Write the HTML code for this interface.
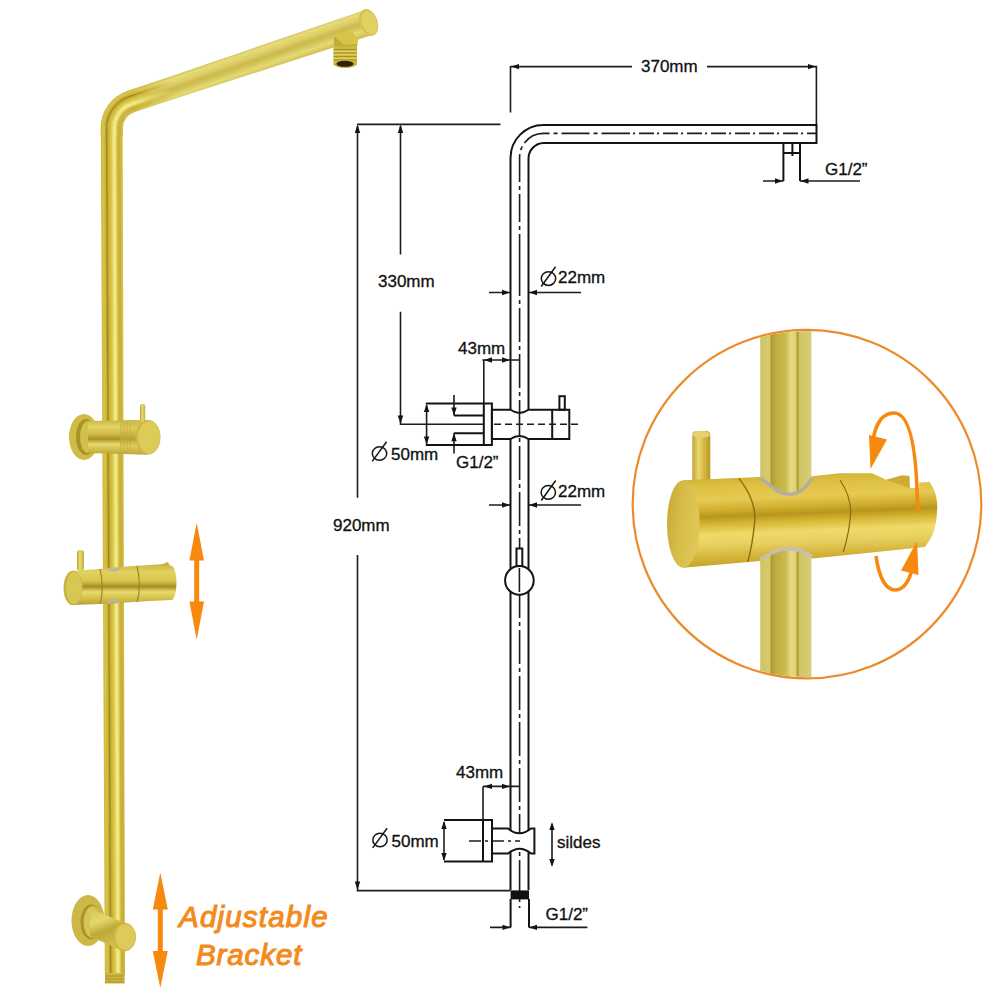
<!DOCTYPE html>
<html><head><meta charset="utf-8">
<style>
html,body{margin:0;padding:0;background:#fff;width:1000px;height:1000px;overflow:hidden}
svg{display:block}
.t{font-family:"Liberation Sans",sans-serif;font-size:17px;fill:#111;stroke:#111;stroke-width:0.3}
.ln{stroke:#141414;stroke-width:2;fill:none}
.dm{stroke:#1c1c1c;stroke-width:1.6;fill:none}
.ar{fill:#141414}
</style></head><body>
<svg width="1000" height="1000" viewBox="0 0 1000 1000">
<defs>
  <linearGradient id="gBodyH" x1="0" y1="0" x2="0" y2="1">
    <stop offset="0" stop-color="#C9B340"/>
    <stop offset="0.18" stop-color="#E4D564"/>
    <stop offset="0.4" stop-color="#D2BD48"/>
    <stop offset="0.55" stop-color="#A89026"/>
    <stop offset="0.7" stop-color="#E6D96E"/>
    <stop offset="0.88" stop-color="#CFB946"/>
    <stop offset="1" stop-color="#B8A132"/>
  </linearGradient>
  <linearGradient id="gBodyH2" x1="0" y1="0" x2="0" y2="1">
    <stop offset="0" stop-color="#CDB746"/>
    <stop offset="0.25" stop-color="#DCCB5C"/>
    <stop offset="0.55" stop-color="#B8A330"/>
    <stop offset="0.75" stop-color="#DCCD5E"/>
    <stop offset="1" stop-color="#C0A938"/>
  </linearGradient>
  <linearGradient id="gPin" x1="0" y1="0" x2="1" y2="0">
    <stop offset="0" stop-color="#B8A132"/>
    <stop offset="0.4" stop-color="#E8DD72"/>
    <stop offset="1" stop-color="#C4AD3C"/>
  </linearGradient>
  <linearGradient id="gSlider" x1="0" y1="0" x2="0" y2="1">
    <stop offset="0" stop-color="#CBB542"/>
    <stop offset="0.2" stop-color="#E2D35E"/>
    <stop offset="0.42" stop-color="#D6C34C"/>
    <stop offset="0.55" stop-color="#A48D24"/>
    <stop offset="0.68" stop-color="#E8DB6C"/>
    <stop offset="0.85" stop-color="#D4BF4A"/>
    <stop offset="1" stop-color="#B9A132"/>
  </linearGradient>
  <linearGradient id="gElbow" x1="0" y1="0" x2="0.3" y2="1">
    <stop offset="0" stop-color="#D6C552"/>
    <stop offset="0.35" stop-color="#E4D76C"/>
    <stop offset="0.6" stop-color="#BFA938"/>
    <stop offset="1" stop-color="#D2BF4E"/>
  </linearGradient>
  <clipPath id="cInset"><circle cx="807" cy="504.1" r="173.2"/></clipPath>
  <linearGradient id="gInPipe" x1="0" y1="0" x2="1" y2="0">
    <stop offset="0" stop-color="#CFC466"/>
    <stop offset="0.18" stop-color="#D6CC6C"/>
    <stop offset="0.22" stop-color="#B09A2E"/>
    <stop offset="0.3" stop-color="#C0AC40"/>
    <stop offset="0.5" stop-color="#CCBC50"/>
    <stop offset="0.6" stop-color="#E6DA84"/>
    <stop offset="0.7" stop-color="#DCCE70"/>
    <stop offset="0.73" stop-color="#A8962C"/>
    <stop offset="0.77" stop-color="#D2C466"/>
    <stop offset="1" stop-color="#D8CE78"/>
  </linearGradient>
  <linearGradient id="gInPin" x1="0" y1="0" x2="1" y2="0">
    <stop offset="0" stop-color="#C0A230"/>
    <stop offset="0.35" stop-color="#ECD672"/>
    <stop offset="0.6" stop-color="#D8BC42"/>
    <stop offset="1" stop-color="#B8982A"/>
  </linearGradient>
  <linearGradient id="gInBody" gradientUnits="userSpaceOnUse" x1="800" y1="474" x2="803.6" y2="563">
    <stop offset="0" stop-color="#D0B030"/>
    <stop offset="0.08" stop-color="#DCBE40"/>
    <stop offset="0.25" stop-color="#E6CA52"/>
    <stop offset="0.36" stop-color="#D2B030"/>
    <stop offset="0.44" stop-color="#B8961C"/>
    <stop offset="0.52" stop-color="#D4B432"/>
    <stop offset="0.64" stop-color="#F0DA6A"/>
    <stop offset="0.76" stop-color="#E8D060"/>
    <stop offset="0.9" stop-color="#D4B438"/>
    <stop offset="1" stop-color="#C4A42C"/>
  </linearGradient>
  <linearGradient id="gInCap" x1="0" y1="0" x2="1" y2="0.3">
    <stop offset="0" stop-color="#C8A838"/>
    <stop offset="0.5" stop-color="#D6BC48"/>
    <stop offset="1" stop-color="#E0C656"/>
  </linearGradient>
  <linearGradient id="gArm" gradientUnits="userSpaceOnUse" x1="245.9" y1="50.7" x2="254.1" y2="74.3">
    <stop offset="0" stop-color="#D6C75C"/>
    <stop offset="0.1" stop-color="#E6DB7C"/>
    <stop offset="0.3" stop-color="#DCCF68"/>
    <stop offset="0.48" stop-color="#CCB94C"/>
    <stop offset="0.62" stop-color="#D4C558"/>
    <stop offset="0.8" stop-color="#E4D976"/>
    <stop offset="1" stop-color="#D2C154"/>
  </linearGradient>
  <linearGradient id="gPipeV" gradientUnits="userSpaceOnUse" x1="100.16" y1="0" x2="121.4" y2="0" gradientTransform="skewX(0.2725)">
    <stop offset="0" stop-color="#CDB740"/>
    <stop offset="0.1" stop-color="#D8C348"/>
    <stop offset="0.21" stop-color="#CCB33A"/>
    <stop offset="0.27" stop-color="#9E8518"/>
    <stop offset="0.34" stop-color="#C8AF34"/>
    <stop offset="0.5" stop-color="#DECB4C"/>
    <stop offset="0.6" stop-color="#F4EB88"/>
    <stop offset="0.68" stop-color="#F0E580"/>
    <stop offset="0.78" stop-color="#CCB53C"/>
    <stop offset="0.9" stop-color="#C8AF38"/>
    <stop offset="1" stop-color="#D6C554"/>
  </linearGradient>
  <linearGradient id="gFade" gradientUnits="userSpaceOnUse" x1="133" y1="100.8" x2="172" y2="87.4">
    <stop offset="0" stop-color="#fff"/>
    <stop offset="1" stop-color="#000"/>
  </linearGradient>
  <mask id="mFade" maskUnits="userSpaceOnUse" x="0" y="0" width="1000" height="1000"><rect width="1000" height="1000" fill="url(#gFade)"/></mask>
</defs>
<rect width="1000" height="1000" fill="#fff"/>

<!-- ============ GOLD SHOWER ============ -->
<g id="gold">
  <!-- wall plates -->
  <ellipse cx="84" cy="437" rx="15" ry="23" fill="#D0BB46"/>
  <ellipse cx="86" cy="437" rx="10" ry="18" fill="#A89328"/>
  <ellipse cx="88" cy="437" rx="8" ry="16" fill="#D2BF4C"/>
  <ellipse cx="88" cy="920.5" rx="16.5" ry="25.5" fill="#CDB746"/>
  <ellipse cx="91" cy="922" rx="10.5" ry="17.5" fill="#A89328"/>
  <ellipse cx="92.5" cy="922" rx="9" ry="16" fill="#D4C152"/>
  <!-- pipe + arm -->
  <path d="M126.4,91.5 L362,10.9 L370,35.7 L133.5,112.2 Z" fill="url(#gArm)"/>
  <path d="M100.85,134 L122.75,134 L125,975 L104.8,975 Z" fill="url(#gPipeV)"/>
  <g mask="url(#mFade)"><path d="M101.31,136 V128.1 A38.49,38.49 0 0 1 127.32,91.69 l42.52,-14.62" stroke="#CFB942" stroke-width="1.41" fill="none"/><path d="M102.22,136 V128.1 A37.58,37.58 0 0 1 127.62,92.55 l42.52,-14.62" stroke="#D4BF45" stroke-width="1.41" fill="none"/><path d="M103.13,136 V128.1 A36.67,36.67 0 0 1 127.91,93.41 l42.52,-14.62" stroke="#D8C247" stroke-width="1.41" fill="none"/><path d="M104.04,136 V128.1 A35.76,35.76 0 0 1 128.21,94.27 l42.52,-14.62" stroke="#D3BC42" stroke-width="1.41" fill="none"/><path d="M104.96,136 V128.1 A34.84,34.84 0 0 1 128.50,95.14 l42.52,-14.62" stroke="#CEB63D" stroke-width="1.41" fill="none"/><path d="M105.87,136 V128.1 A33.93,33.93 0 0 1 128.80,96.00 l42.52,-14.62" stroke="#BDA42F" stroke-width="1.41" fill="none"/><path d="M106.78,136 V128.1 A33.02,33.02 0 0 1 129.10,96.86 l42.52,-14.62" stroke="#9E8518" stroke-width="1.41" fill="none"/><path d="M107.69,136 V128.1 A32.11,32.11 0 0 1 129.39,97.73 l42.52,-14.62" stroke="#B89F29" stroke-width="1.41" fill="none"/><path d="M108.61,136 V128.1 A31.19,31.19 0 0 1 129.69,98.59 l42.52,-14.62" stroke="#CAB136" stroke-width="1.41" fill="none"/><path d="M109.52,136 V128.1 A30.28,30.28 0 0 1 129.98,99.45 l42.52,-14.62" stroke="#D0B93C" stroke-width="1.41" fill="none"/><path d="M110.43,136 V128.1 A29.37,29.37 0 0 1 130.28,100.32 l42.52,-14.62" stroke="#D5C043" stroke-width="1.41" fill="none"/><path d="M111.34,136 V128.1 A28.46,28.46 0 0 1 130.57,101.18 l42.52,-14.62" stroke="#DBC749" stroke-width="1.41" fill="none"/><path d="M112.26,136 V128.1 A27.54,27.54 0 0 1 130.87,102.04 l42.52,-14.62" stroke="#E3D259" stroke-width="1.41" fill="none"/><path d="M113.17,136 V128.1 A26.63,26.63 0 0 1 131.17,102.91 l42.52,-14.62" stroke="#ECDF72" stroke-width="1.41" fill="none"/><path d="M114.08,136 V128.1 A25.72,25.72 0 0 1 131.46,103.77 l42.52,-14.62" stroke="#F4EB88" stroke-width="1.41" fill="none"/><path d="M114.99,136 V128.1 A24.81,24.81 0 0 1 131.76,104.63 l42.52,-14.62" stroke="#F2E883" stroke-width="1.41" fill="none"/><path d="M115.91,136 V128.1 A23.89,23.89 0 0 1 132.05,105.50 l42.52,-14.62" stroke="#EDE17B" stroke-width="1.41" fill="none"/><path d="M116.82,136 V128.1 A22.98,22.98 0 0 1 132.35,106.36 l42.52,-14.62" stroke="#DECD5F" stroke-width="1.41" fill="none"/><path d="M117.73,136 V128.1 A22.07,22.07 0 0 1 132.65,107.22 l42.52,-14.62" stroke="#CFB942" stroke-width="1.41" fill="none"/><path d="M118.64,136 V128.1 A21.16,21.16 0 0 1 132.94,108.09 l42.52,-14.62" stroke="#CBB33B" stroke-width="1.41" fill="none"/><path d="M119.56,136 V128.1 A20.24,20.24 0 0 1 133.24,108.95 l42.52,-14.62" stroke="#CAB13A" stroke-width="1.41" fill="none"/><path d="M120.47,136 V128.1 A19.33,19.33 0 0 1 133.53,109.81 l42.52,-14.62" stroke="#C8AF38" stroke-width="1.41" fill="none"/><path d="M121.38,136 V128.1 A18.42,18.42 0 0 1 133.83,110.68 l42.52,-14.62" stroke="#CDB742" stroke-width="1.41" fill="none"/><path d="M122.29,136 V128.1 A17.51,17.51 0 0 1 134.12,111.54 l42.52,-14.62" stroke="#D3C04E" stroke-width="1.41" fill="none"/></g>
  <!-- arm end cap -->
  <ellipse cx="368.6" cy="22.5" rx="9" ry="13.8" transform="rotate(-19 368.6 22.5)" fill="#D4C350"/>
  <ellipse cx="369.6" cy="22.7" rx="7.2" ry="12" transform="rotate(-19 369.6 22.7)" fill="#E0D162"/>
  <!-- nozzle -->
  <path d="M334,36 L352,31 L358,40 L357,48 L334,48 Z" fill="#D6C34A"/>
  <path d="M334,36 L344,45 L357,44 L357,48 L334,48 Z" fill="#C4AB38"/>
  <rect x="333.5" y="46" width="23.5" height="19" fill="#CDB742"/>
  <path d="M333.5,49.5 H357 M333.5,53 H357 M333.5,56.5 H357 M333.5,60 H357" stroke="#A89126" stroke-width="1.2"/>
  <path d="M333.5,51.2 H357 M333.5,54.7 H357 M333.5,58.2 H357" stroke="#E4D76C" stroke-width="1"/>
  <ellipse cx="345.2" cy="64" rx="11.6" ry="4" fill="#C8B13C"/>
  <ellipse cx="345" cy="63.8" rx="8.6" ry="3" fill="#2E2208"/>

  <!-- upper bracket -->
  <path d="M88,421 L147.5,420 L147.5,454.5 L88,453 Z" fill="url(#gBodyH)"/>
  <path d="M120,420.5 L147.5,420 L147.5,454.5 L120,454 Z" fill="url(#gBodyH2)"/>
  <path d="M121,421 V454 M124,421 V454 M127,421 V454 M130,421 V454" stroke="#BFA938" stroke-width="0.8" opacity="0.7"/>
  <ellipse cx="148" cy="437.3" rx="12.5" ry="17.3" fill="#CDB946"/>
  <ellipse cx="149" cy="437.3" rx="11" ry="16" fill="#DCCB56"/>
  <rect x="140" y="404" width="5.2" height="18" rx="2.2" fill="url(#gPin)"/>

  <!-- lower slider -->
  <rect x="77" y="550" width="7" height="21" rx="3" fill="url(#gPin)"/>
  <path d="M73,571 L100,569 L118,567 L150,565 L165,564 L172,566 C178,570 178,596 172,600 L150,601 L118,603 L100,604 L73,605 Z" fill="url(#gSlider)"/>
  <path d="M160,565 L168,562 L170,566 Z" fill="#C9B340"/>
  <path d="M100,569 C103,580 103,594 100,604" stroke="#9C8720" stroke-width="1.2" fill="none"/>
  <path d="M137,566 C140,578 140,592 137,602" stroke="#9C8720" stroke-width="1.2" fill="none"/>
  <path d="M108,568 Q113,573 120,567" stroke="#B8B4A8" stroke-width="2.4" fill="none"/>
  <path d="M108,603 Q113,598 120,603" stroke="#B8B4A8" stroke-width="2.4" fill="none"/>
  <ellipse cx="73" cy="588" rx="9.5" ry="17.2" fill="#C8B33E"/>
  <ellipse cx="74" cy="588" rx="8" ry="16" fill="#D8C754"/>

  <!-- bottom bracket -->
  <ellipse cx="90" cy="922.5" rx="5" ry="14" fill="#D6C554"/><path d="M90,908.5 L124,922.8 L124,951.2 L90,936.5 Z" fill="url(#gElbow)"/>
  <ellipse cx="124.5" cy="937" rx="11.5" ry="14.3" fill="#CDB642"/>
  <ellipse cx="125.5" cy="937" rx="10" ry="13" fill="#DCCB58"/>
  <rect x="105" y="973" width="19.5" height="10.5" fill="#CDB742"/>
  <path d="M105,976 H124.5 M105,979 H124.5 M105,982 H124.5" stroke="#A89126" stroke-width="1"/>

  <!-- orange arrows -->
  <g fill="#F7890F">
    <polygon points="196.7,522.8 204,560.5 199.2,560.5 199.2,601.5 204,601.5 196.7,639.8 189.4,601.5 194.2,601.5 194.2,560.5 189.4,560.5"/>
    <polygon points="160.3,872.4 167.8,909.4 162.8,909.4 162.8,951 167.8,951 160.3,988 152.8,951 157.8,951 157.8,909.4 152.8,909.4"/>
  </g>
  <text x="179" y="927.4" style="font-family:'Liberation Sans',sans-serif;font-style:italic;font-size:29.5px;letter-spacing:1.2px;fill:#F48A1C;stroke:#F48A1C;stroke-width:1.1">Adjustable</text>
  <text x="196" y="964.8" style="font-family:'Liberation Sans',sans-serif;font-style:italic;font-size:29.5px;letter-spacing:0.9px;fill:#F48A1C;stroke:#F48A1C;stroke-width:1.1">Bracket</text>
</g>

<!-- ============ INSET ============ -->
<g id="inset">
  <circle cx="807" cy="504.1" r="174.3" fill="#fff" stroke="#EC8B2C" stroke-width="2.2"/>
  <g clip-path="url(#cInset)">
    <rect x="760.2" y="320" width="51.2" height="370" fill="url(#gInPipe)"/>
  </g>
  <!-- pin -->
  <rect x="692.3" y="431" width="18" height="52" rx="4" fill="url(#gInPin)"/>
  <ellipse cx="701.3" cy="434.5" rx="8.8" ry="3.6" fill="#E6D070"/>
  <!-- body -->
  <path d="M683,480.3 L760,477 C768,479 774,491 788,492.5 C802,493 808,482 812,476.2 L840,473.2 L872,473.2 L886.2,479.8 L901.6,475.4 L909.3,476 L909.9,488 L919.2,488 L919.2,482.6 L929.7,482 C936,492 938,500 937,512 C936,525 935,535 924.7,547 L840,555.7 L812,558.5 C806,554 800,550.5 790,550.5 C776,550.5 770,556 760,561 L683,567.7 Z" fill="url(#gInBody)"/>
  <path d="M886.2,479.8 L901.6,475.4 L909.3,476 L909.9,488 Z" fill="#C4A42C" opacity="0.7"/>
  <!-- dividers -->
  <path d="M739,478.4 C752,495 756,510 754.6,522.5 C753,540 751,550 747.8,562" stroke="#8C6A10" stroke-width="1.4" fill="none"/>
  <path d="M840,480 C848,492 851,502 850.5,512.8 C850,528 847,540 843.3,552" stroke="#8C6A10" stroke-width="1.2" fill="none"/>
  <!-- grey notches -->
  <path d="M760,478.8 C768,481 774,493 788,494.3 C802,495 808,484 812,478" stroke="#B2AEA2" stroke-width="3.4" fill="none"/>
  <path d="M760,559.3 C770,554 776,548.8 790,548.8 C800,548.8 806,552 812,556.8" stroke="#C4C0B4" stroke-width="3.4" fill="none"/>
  <!-- end cap -->
  <ellipse cx="683.3" cy="524" rx="16.3" ry="43.8" fill="url(#gInCap)"/>
  <!-- orange rotate arrow -->
  <g fill="none" stroke="#F7890F" stroke-width="3.6">
    <path d="M873,462 C870,430 880,413 894,413 C908,413 917,440 917.5,511"/>
    <path d="M876,556 C879,578 886,590 895,590 C904,590 911,580 913,562"/>
  </g>
  <g fill="#F7890F">
    <polygon points="869,435 887,439.5 870.5,469"/>
    <polygon points="901,570.5 918.5,575 917,541"/>
  </g>
</g>

<!-- ============ TECHNICAL DRAWING ============ -->
<g id="drawing">
  <!-- pipe outer/inner edges -->
  <path class="ln" d="M510.5,890 V158 A33,33 0 0 1 543.5,125 H816.5 V143 H543.5 A15.5,15.5 0 0 0 528.5,158.5 V890"/>
  <!-- centre line -->
  <path class="dm" stroke-width="1.8" stroke-dasharray="28 4 4 4" d="M519.6,262 V158 A24,24 0 0 1 543.5,133.4 H615"/>
  <path class="dm" stroke-width="1.8" stroke-dasharray="15 3 2 4" d="M615,133.4 H816"/>
  <path class="dm" stroke-width="1.8" stroke-dasharray="34 4 4 4" d="M519.6,262 V908"/>

  <!-- top horizontal ext line -->
  <path class="dm" d="M357,124.4 H500.5"/>
  <!-- 920 line -->
  <path class="dm" d="M357.5,126 V497.7 M357.5,555 V890.6 H510.5"/>
  <polygon class="ar" points="357.5,124.5 354.8,133 360.2,133"/>
  <polygon class="ar" points="357.5,890 354.8,881.5 360.2,881.5"/>
  <!-- 330 line -->
  <path class="dm" d="M400.5,126 V254.6 M400.5,311.7 V424.3 H483.8"/>
  <polygon class="ar" points="400.5,124.5 397.8,133 403.2,133"/>
  <polygon class="ar" points="400.5,424 397.8,415.5 403.2,415.5"/>

  <!-- 370 dim -->
  <path class="dm" d="M510.5,66 V112.5 M510.5,66.6 H632 M707,66.6 H816.4 V124.4"/>
  <polygon class="ar" points="511,66.6 519,63.9 519,69.3"/>
  <polygon class="ar" points="816,66.6 808,63.9 808,69.3"/>
  <text class="t" x="641" y="71.5">370mm</text>

  <!-- nozzle -->
  <path class="ln" d="M783.4,143 V181 M800,143 V181 M783.4,153 H800 M792.4,143 V156"/>
  <path class="dm" d="M763,181 H783.4 M800,181 H860"/>
  <polygon class="ar" points="783,181 775,178.3 775,183.7"/>
  <polygon class="ar" points="800.5,181 808.5,178.3 808.5,183.7"/>
  <text class="t" x="825" y="174.5">G1/2”</text>

  <!-- 22mm dim upper -->
  <path class="dm" d="M489,292.5 H510 M528.7,292.5 H581"/>
  <polygon class="ar" points="510,292.5 502,289.8 502,295.2"/>
  <polygon class="ar" points="529,292.5 537,289.8 537,295.2"/>
  <g transform="translate(0,0)">
    <ellipse cx="548.5" cy="278.6" rx="7.2" ry="6.8" fill="none" stroke="#151515" stroke-width="1.5"/>
    <path d="M541.2,286.5 L555.6,266.8" stroke="#151515" stroke-width="1.5"/>
  </g>
  <text class="t" x="558" y="282.5">22mm</text>

  <!-- 330 / 920 text -->
  <text class="t" x="378" y="286.5">330mm</text>
  <text class="t" x="333" y="531">920mm</text>

  <!-- upper bracket -->
  <path class="dm" d="M482.4,360 H519.5 M483.8,360 V403.5"/>
  <polygon class="ar" points="484,360 492,357.3 492,362.7"/>
  <polygon class="ar" points="510,360 502,357.3 502,362.7"/>
  <text class="t" x="458" y="353.5">43mm</text>
  <!-- slider body -->
  <path class="ln" style="fill:#fff" d="M491.9,409.8 H510.5 Q519.5,416 528.5,409.8 H569.3 V439 H528.5 Q519.5,433 510.5,439 H491.9 Z"/>
  <path class="ln" d="M552.2,409.8 V439"/>
  <rect class="ln" x="559.4" y="396.2" width="5.4" height="13.6"/>
  <path class="dm" stroke-dasharray="7 4" d="M494,424.3 H578"/>
  <path class="dm" stroke-width="1.4" d="M519.5,412 V437"/>
  <!-- plate -->
  <path class="ln" d="M425.8,403.5 H491.9 V445 H425.8 M483.8,403.5 V445 M454,415.6 H483.8 M454,433.2 H483.8"/>
  <path class="dm" d="M426.6,405 V444 M454,395 V415.6 M454,433.2 V453.4"/>
  <polygon class="ar" points="426.6,404 423.9,412 429.3,412"/>
  <polygon class="ar" points="426.6,444.5 423.9,436.5 429.3,436.5"/>
  <polygon class="ar" points="454,415.6 451.3,407.6 456.7,407.6"/>
  <polygon class="ar" points="454,433.2 451.3,441.2 456.7,441.2"/>
  <g>
    <ellipse cx="379.5" cy="453.5" rx="7.2" ry="6.8" fill="none" stroke="#151515" stroke-width="1.5"/>
    <path d="M372.2,461.4 L386.6,441.7" stroke="#151515" stroke-width="1.5"/>
  </g>
  <text class="t" x="391" y="459.8">50mm</text>
  <text class="t" x="456" y="468">G1/2”</text>

  <!-- 22mm dim lower -->
  <path class="dm" d="M489,505 H510 M528.7,505 H581"/>
  <polygon class="ar" points="510,505 502,502.3 502,507.7"/>
  <polygon class="ar" points="529,505 537,502.3 537,507.7"/>
  <g>
    <ellipse cx="548.3" cy="492.3" rx="7.2" ry="6.9" fill="none" stroke="#151515" stroke-width="1.5"/>
    <path d="M541.3,500.5 L555.7,480.5" stroke="#151515" stroke-width="1.5"/>
  </g>
  <text class="t" x="558" y="496.5">22mm</text>

  <!-- ball -->
  <circle class="ln" style="fill:#fff" cx="519.4" cy="580.4" r="14.3"/>
  <rect class="ln" style="fill:#fff" x="516.5" y="548.5" width="5.8" height="17.5"/>
  <path class="dm" stroke-width="1.4" d="M519.4,568 V592"/>

  <!-- lower bracket -->
  <path class="dm" d="M483,786.4 H519.5 M483,786.4 V861.6"/>
  <polygon class="ar" points="484,786.4 492,783.7 492,789.1"/>
  <polygon class="ar" points="510,786.4 502,783.7 502,789.1"/>
  <text class="t" x="456" y="778">43mm</text>
  <path class="ln" style="fill:#fff" d="M492,828.4 H508 Q519.5,838 531,828.4 H534.4 V853.6 H531 Q519.5,844 508,853.6 H492 Z"/>
  <path class="ln" d="M444,820 H492 V861.6 H444 M483,820 V861.6"/>
  <path class="dm" d="M444,822 V860"/>
  <polygon class="ar" points="444,821 441.3,829 446.7,829"/>
  <polygon class="ar" points="444,861 441.3,853 446.7,853"/>
  <path class="dm" stroke-dasharray="12 4 3 4" d="M469,841 H520"/>
  <g>
    <ellipse cx="380" cy="840" rx="7.2" ry="6.8" fill="none" stroke="#151515" stroke-width="1.5"/>
    <path d="M372.7,847.9 L387.1,828.2" stroke="#151515" stroke-width="1.5"/>
  </g>
  <text class="t" x="391.5" y="846.5">50mm</text>
  <path class="dm" d="M552,824 V865"/>
  <polygon class="ar" points="552,822 549.3,830 554.7,830"/>
  <polygon class="ar" points="552,867 549.3,859 554.7,859"/>
  <text class="t" x="557" y="848">sildes</text>

  <!-- bottom thread -->
  <rect x="510.6" y="890.4" width="18.4" height="9" fill="#111"/>
  <path class="ln" d="M510.6,899 V927.4 M529,899 V927.4"/>
  <path class="dm" d="M490,927.4 H510.6 M529,927.4 H587.4"/>
  <polygon class="ar" points="510.5,927.4 502.5,924.7 502.5,930.1"/>
  <polygon class="ar" points="529,927.4 537,924.7 537,930.1"/>
  <text class="t" x="545.5" y="919.5">G1/2”</text>
</g>

</svg>
</body></html>
